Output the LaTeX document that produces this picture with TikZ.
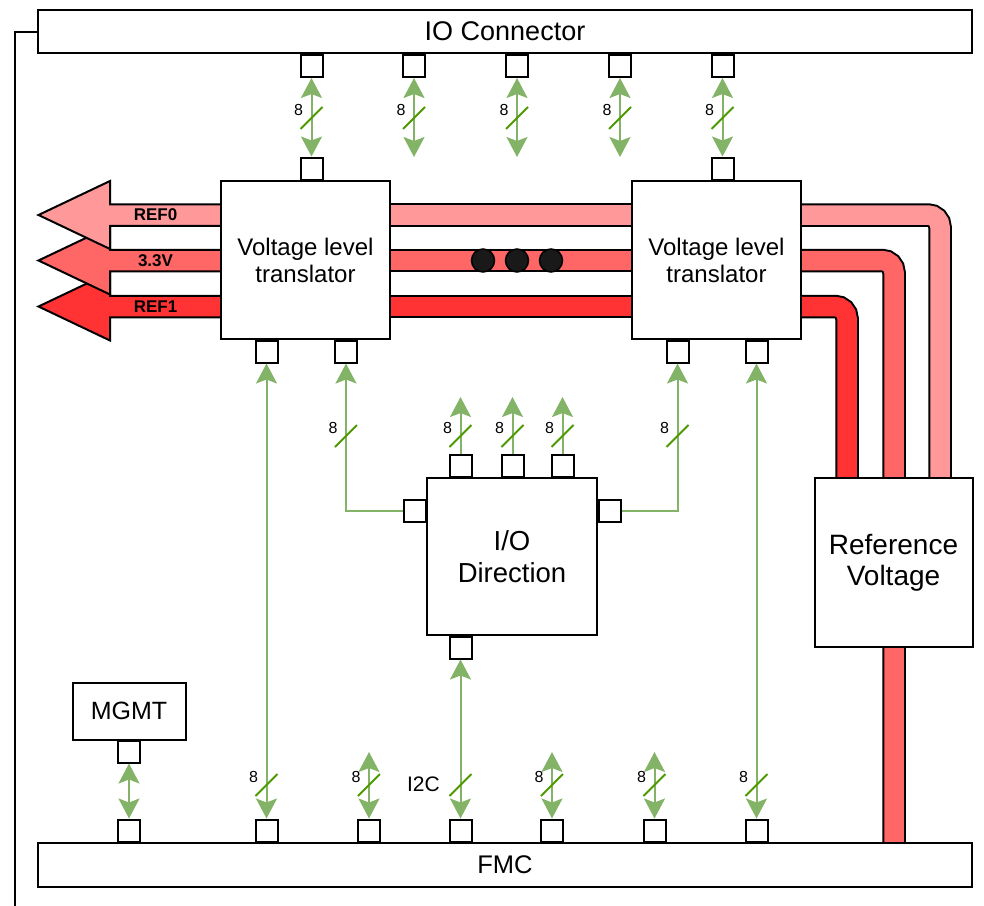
\documentclass[tikz,border=0pt]{standalone}
\usepackage{fontspec}
\setmainfont{Liberation Sans}
\usetikzlibrary{arrows.meta}

\definecolor{refzero}{HTML}{FF9999}
\definecolor{vthree}{HTML}{FF6666}
\definecolor{refone}{HTML}{FF3333}
\definecolor{sig}{HTML}{82B366}
\definecolor{tickgreen}{HTML}{4D9900}

\begin{document}
\begin{tikzpicture}[x=1pt,y=-1pt,
  >={Stealth[length=20pt,width=21pt,inset=4pt]},
  blk/.style={draw=black,line width=2pt,fill=white,inner sep=0pt,align=center},
  port/.style={draw=black,line width=2pt,fill=white,minimum size=22pt,inner sep=0pt},
  tube/.style={preaction={draw=black,line width=23.5pt},draw=#1,line width=19.5pt,rounded corners=12pt},
  headarrow/.style={draw=black,line width=2pt,fill=#1},
  link/.style={draw=sig,line width=2pt},
  buslbl/.style={font=\bfseries\fontsize{17}{17}\selectfont},
  pics/slash/.style={code={\draw[tickgreen,line width=2pt] (-11,11) -- (11,-11);}},
  pics/slashlbl/.style={code={
    \draw[tickgreen,line width=2pt] (-11,11) -- (11,-11);
    \node[font=\fontsize{16}{16}\selectfont,inner sep=0pt] at (-13,-8) {#1};}},
]
\useasboundingbox (0,0) rectangle (984,905);

% ---------- supply and reference buses (behind the blocks) ----------
\draw[tube=refone] (795,306.5) -- (847,306.5) -- (847,481);
\draw[tube=vthree] (795,260.5) -- (894,260.5) -- (894,846);
\draw[tube=refzero] (795,215) -- (940,215) -- (940,481);

\draw[tube=refone] (385,306.5) -- (637,306.5);
\draw[tube=vthree] (385,260.5) -- (637,260.5);
\draw[tube=refzero] (385,215) -- (637,215);

\draw[headarrow=refone]  (38.5,306.5) -- (110,272.5) -- (110,295.75) -- (228,295.75)
  -- (228,317.25) -- (110,317.25) -- (110,340.5) -- cycle;
\draw[headarrow=vthree]  (38.5,260.5) -- (110,226.5) -- (110,249.75) -- (228,249.75)
  -- (228,271.25) -- (110,271.25) -- (110,294.5) -- cycle;
\draw[headarrow=refzero] (38.5,215) -- (110,181) -- (110,204.25) -- (228,204.25)
  -- (228,225.75) -- (110,225.75) -- (110,249) -- cycle;

\node[buslbl] (lref0) at (155.5,215) {REF0};
\node[buslbl] (lv33)  at (155.5,260.5) {3.3V};
\node[buslbl] (lref1) at (155.5,306.5) {REF1};

% ---------- blocks ----------
\node[blk,minimum width=934pt,minimum height=43pt,font=\fontsize{27}{27}\selectfont] (ioc) at (505,31.5) {IO Connector};
\node[blk,minimum width=934pt,minimum height=44pt,font=\fontsize{25.5}{25.5}\selectfont] (fmc) at (505,865) {FMC};
\node[blk,minimum width=169pt,minimum height=158pt,font=\fontsize{24}{27}\selectfont] (vlt1) at (305.5,260) {Voltage level\\translator};
\node[blk,minimum width=169pt,minimum height=158pt,font=\fontsize{24}{27}\selectfont] (vlt2) at (716.5,260) {Voltage level\\translator};
\node[blk,minimum width=170pt,minimum height=157pt,font=\fontsize{27.5}{32}\selectfont] (iod) at (512,556.5) {I/O\\Direction};
\node[blk,minimum width=158pt,minimum height=169pt,font=\fontsize{28}{31}\selectfont] (refv) at (893.5,562.5) {Reference\\Voltage};
\node[blk,minimum width=113pt,minimum height=57pt,font=\fontsize{25}{25}\selectfont] (mgmt) at (129,711) {MGMT};

% dots on the 3.3V bus
\foreach \x/\n in {483/a,517/b,551/c}
  \node[circle,draw=black,line width=1.5pt,fill=black!90,minimum size=23pt,inner sep=0pt] (dot\n) at (\x,260.5) {};

% ---------- ports ----------
\foreach \x [count=\i] in {311.5,414,517,620,722.5}
  \node[port] (io\i) at (\x,66) {};
\node[port] (v1t)  at (311.5,168.5) {};
\node[port] (v2t)  at (722.5,168.5) {};
\node[port] (v1b1) at (266.5,351.5) {};
\node[port] (v1b2) at (346,351.5) {};
\node[port] (v2b1) at (677.5,351.5) {};
\node[port] (v2b2) at (756.5,351.5) {};
\node[port] (d1) at (460.5,465.5) {};
\node[port] (d2) at (512.5,465.5) {};
\node[port] (d3) at (562.5,465.5) {};
\node[port] (db) at (460.5,647.5) {};
\node[port] (dl) at (414.5,511) {};
\node[port] (dr) at (609.5,511) {};
\node[port] (mp) at (129,751.5) {};
\foreach \x [count=\i] in {129,266.5,369,460.5,552,654.5,756.5}
  \node[port] (f\i) at (\x,830.5) {};

% ---------- free arrow ends ----------
\foreach \i in {2,3,4}
  \coordinate (t\i) at (io\i.south |- 0,157);
\foreach \i in {1,2,3}
  \coordinate (u\i) at (d\i.north |- 0,397);
\foreach \i in {3,5,6}
  \coordinate (w\i) at (f\i.north |- 0,752);
\coordinate (frameend) at (15,912);

% outer frame edge
\draw[line width=2pt] (ioc.west |- 0,32) -| (frameend);

% ---------- signal connectors ----------
\draw[link,<->] (io1.south) -- (v1t.north);
\draw[link,<->] (io5.south) -- (v2t.north);
\foreach \i in {2,3,4}
  \draw[link,<->] (io\i.south) -- (t\i);
\foreach \i in {1,...,5}
  \pic at (io\i.south |- 0,118) {slashlbl=8};

\foreach \i in {1,2,3}{
  \draw[link,->] (d\i.north) -- (u\i);
  \pic at (d\i.north |- 0,436) {slashlbl=8};
}
\draw[link,->] (dl.west) -| (v1b2.south);
\pic at (v1b2.south |- 0,436) {slashlbl=8};
\draw[link,->] (dr.east) -| (v2b1.south);
\pic at (v2b1.south |- 0,436) {slashlbl=8};

\draw[link,<->] (f2.north) -- (v1b1.south);
\draw[link,<->] (f7.north) -- (v2b2.south);
\draw[link,<->] (f4.north) -- (db.south);
\draw[link,<->] (f1.north) -- (mp.south);
\foreach \i in {3,5,6}
  \draw[link,<->] (f\i.north) -- (w\i);
\foreach \i in {2,3,5,6,7}
  \pic at (f\i.north |- 0,785) {slashlbl=8};
\pic at (f4.north |- 0,785) {slash};
\node[font=\fontsize{21}{21}\selectfont,inner sep=0pt,anchor=east] (i2c) at (440,784) {I2C};

\end{tikzpicture}
\end{document}
